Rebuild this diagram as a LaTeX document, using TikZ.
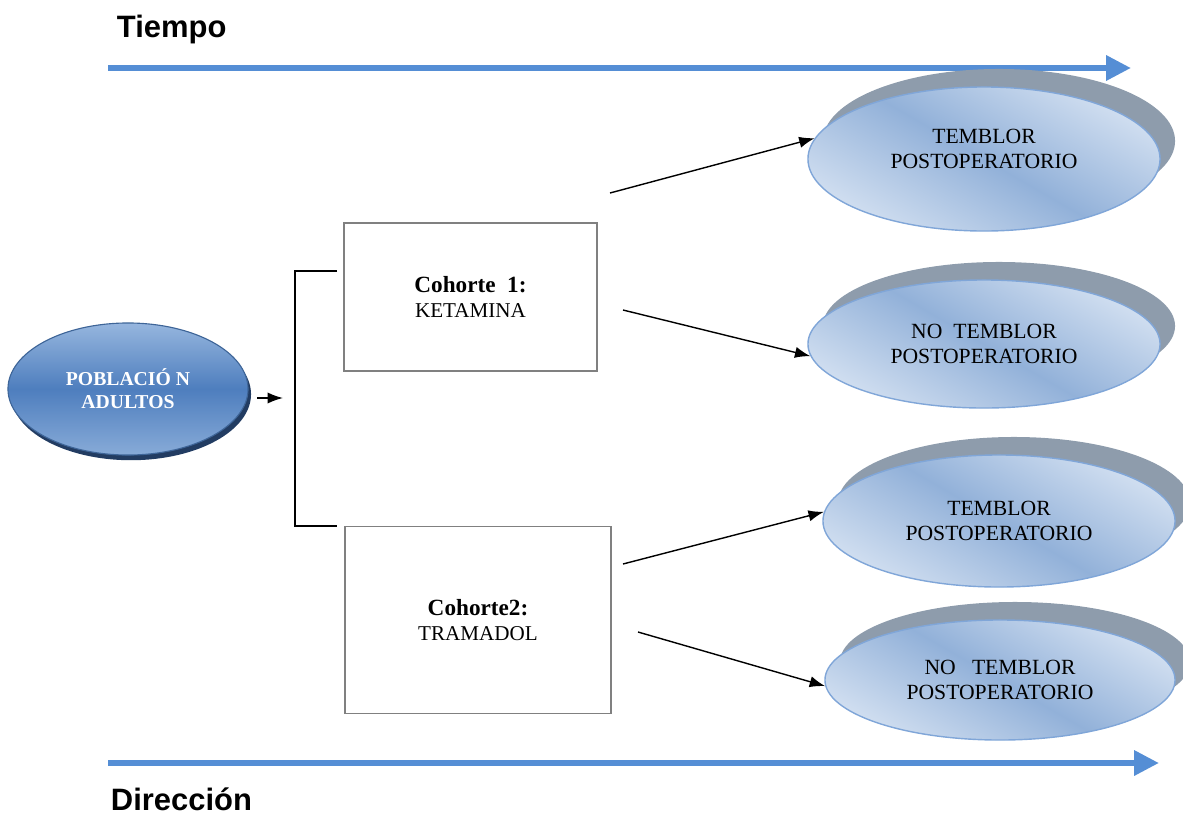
\documentclass[tikz,border=0pt]{standalone}
\usepackage{fontspec}
\setmainfont{Liberation Serif}
\newfontfamily\headfont{Liberation Sans}
\usetikzlibrary{arrows.meta,shapes.geometric,shadows}

\definecolor{flecha}{RGB}{85,142,213}
\definecolor{elClaro}{RGB}{208,222,240}
\definecolor{elMedio}{RGB}{146,177,217}
\definecolor{elBorde}{RGB}{128,166,216}
\definecolor{elSombra}{RGB}{142,156,172}
\definecolor{pobClaro}{RGB}{150,182,222}
\definecolor{pobMedio}{RGB}{78,126,190}
\definecolor{pobSombra}{RGB}{34,60,98}

\begin{document}
\begin{tikzpicture}[x=0.025cm, y=-0.025cm,
  tiempo/.style={-{Triangle[length=0.62cm,width=0.6cm]}, line width=4.2pt, draw=flecha},
  titulo/.style={anchor=west, font=\headfont\bfseries\fontsize{22}{26}\selectfont},
  conn/.style={-{Latex[length=11pt,width=8pt]}, line width=1pt},
  cohorte/.style={draw=black!50, line width=1.1pt, align=center, inner sep=0pt,
    font=\fontsize{15}{18.4}\selectfont},
  resultado/.style={ellipse, inner sep=0pt, align=center, draw=elBorde, line width=1pt,
    top color=elClaro, bottom color=elClaro, middle color=elMedio, shading angle=-30,
    font=\fontsize{15.4}{17.7}\selectfont,
    drop shadow={shadow xshift=0.375cm, shadow yshift=0.45cm, fill=elSombra, opacity=1}},
  poblacion/.style={ellipse, inner sep=0pt, align=center, draw=pobMedio!80!black, line width=0.8pt,
    top color=pobClaro, bottom color=pobClaro!80!pobMedio, middle color=pobMedio,
    text=white, font=\bfseries\fontsize{14}{16.3}\selectfont,
    drop shadow={shadow xshift=0.075cm, shadow yshift=-0.13cm, fill=pobSombra, opacity=1}}]
\useasboundingbox (0,0) rectangle (1183,816);

% time axis
\node[titulo] (tiempo) at (112,30) {Tiempo};
\coordinate (T0) at (108,68);
\coordinate (T1) at (1131,68);
\draw[tiempo] (T0) -- (T1);

% direction axis
\node[titulo] (direccion) at (106,799) {Dirección};
\coordinate (D0) at (108,763);
\coordinate (D1) at (1159,763);
\draw[tiempo] (D0) -- (D1);

% population
\node[poblacion, minimum width=6cm, minimum height=3.3cm] (pob) at (128,389) {POBLACIÓ N\\ADULTOS};

% cohorts
\node[cohorte, minimum width=6.325cm, minimum height=3.7cm] (coh1) at (470.5,297)
  {{\fontsize{16.5}{18.4}\selectfont\bfseries Cohorte\ \ 1:}\\KETAMINA};
\node[cohorte, minimum width=6.65cm, minimum height=4.675cm] (coh2) at (478,620)
  {{\fontsize{16.5}{18.4}\selectfont\bfseries Cohorte2:}\\TRAMADOL};

% bracket
\coordinate (brk) at (283,398);
\coordinate (brkA) at (337,271);
\coordinate (brkB) at (295,271);
\coordinate (brkC) at (295,526);
\coordinate (brkD) at (337,526);
\draw[conn, shorten <=6pt] (pob.east |- brk) -- (brk);
\draw[line width=1.1pt] (brkA) -- (brkB) -- (brkC) -- (brkD);

% outcomes
\node[resultado, minimum width=8.8cm, minimum height=3.6cm,
  label={[align=center, font=\fontsize{15.4}{17.7}\selectfont, yshift=7pt]center:TEMBLOR\\POSTOPERATORIO}]
  (t1) at (984,159) {};
\node[resultado, minimum width=8.8cm, minimum height=3.2cm] (t2) at (984,344) {NO\ \ TEMBLOR\\POSTOPERATORIO};
\node[resultado, minimum width=8.8cm, minimum height=3.3cm] (t3) at (999,521) {TEMBLOR\\POSTOPERATORIO};
\node[resultado, minimum width=8.75cm, minimum height=3.0cm] (t4) at (1000,680) {NO\ \ \ TEMBLOR\\POSTOPERATORIO};

\coordinate (s1) at (610,193);
\coordinate (s2) at (623,310);
\coordinate (s3) at (623,564);
\coordinate (s4) at (638,632);
\draw[conn] (s1) -- (t1.173);
\draw[conn] (s2) -- (t2.184);
\draw[conn] (s3) -- (t3.177);
\draw[conn] (s4) -- (t4.182);
\end{tikzpicture}
\end{document}
